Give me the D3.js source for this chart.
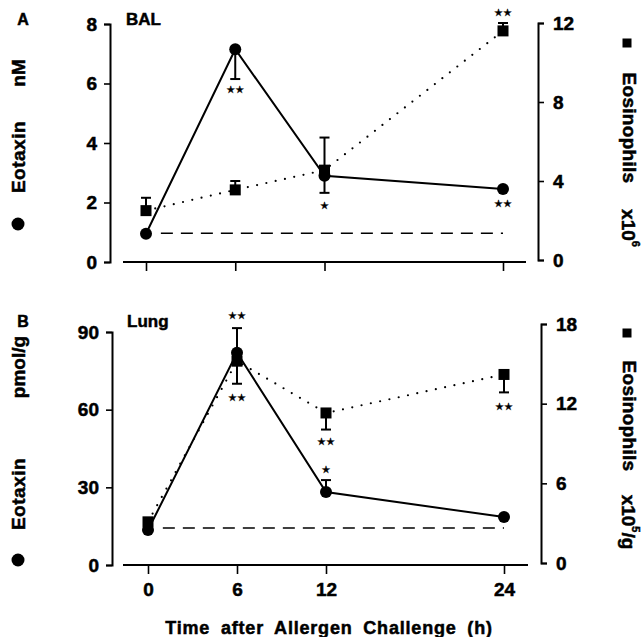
<!DOCTYPE html>
<html>
<head>
<meta charset="utf-8">
<script src="https://cdn.jsdelivr.net/npm/d3@7"></script>
<style>
  body { margin: 0; background: #fff; }
  svg text { font-family: "Liberation Sans", Arial, sans-serif; font-weight: bold; fill: #000; stroke: #000; stroke-width: 0.5px; }
</style>
</head>
<body>
<div id="chart"></div>
<script>
// time points (h)
var hours = [0, 6, 12, 24];

// panel A - BAL
var balEotaxin   = [0.95, 7.15, 2.9, 2.45];   // nM
var balEotaxinLo = [0.95, 6.15, 2.9, 2.45];
var balEotaxinHi = [0.95, 7.15, 2.9, 2.45];
var balEos   = [2.5, 3.55, 4.55, 11.6];       // x10^6
var balEosLo = [2.5, 3.55, 3.4, 11.6];
var balEosHi = [3.15, 4.0, 6.2, 12.0];
var balBaseline = 0.97;
var balLeftTicks = [0, 2, 4, 6, 8];
var balRightTicks = [0, 4, 8, 12];
var balStars = [
  {h: 6,  axis: "left",  v: 5.8,  s: "★★"},
  {h: 12, axis: "left",  v: 1.9,  s: "★"},
  {h: 24, axis: "left",  v: 1.95, s: "★★"},
  {h: 24, axis: "right", v: 12.55, s: "★★"}
];

// panel B - Lung
var lungEotaxin   = [13.5, 82, 28.2, 18.5];   // pmol/g
var lungEotaxinLo = [13.5, 82, 28.2, 18.5];
var lungEotaxinHi = [13.5, 91.5, 32.8, 18.5];
var lungEos   = [3.1, 15.2, 11.3, 14.2];      // x10^5/g
var lungEosLo = [3.1, 13.5, 10.05, 12.85];
var lungEosHi = [3.1, 15.2, 11.3, 14.2];
var lungBaseline = 14.3;
var lungLeftTicks = [0, 30, 60, 90];
var lungRightTicks = [0, 6, 12, 18];
var lungStars = [
  {h: 6,  axis: "left",  v: 96.5, s: "★★"},
  {h: 6,  axis: "right", v: 12.45, s: "★★"},
  {h: 12, axis: "right", v: 9.15, s: "★★"},
  {h: 12, axis: "left",  v: 36.7, s: "★"},
  {h: 24, axis: "right", v: 11.8, s: "★★"}
];

var width = 642, height = 637;

var svg = d3.select("#chart").append("svg")
  .attr("width", width)
  .attr("height", height);

function zip(vals, lo, hi) {
  return hours.map(function(h, i) { return {h: h, v: vals[i], lo: lo[i], hi: hi[i]}; });
}

function draw_panel(p) {
  var g = svg.append("g");

  var x = d3.scaleLinear().domain([0, 24]).range(p.xRange);
  var yL = d3.scaleLinear().domain(p.leftDomain).range(p.leftRange);
  var yR = d3.scaleLinear().domain(p.rightDomain).range(p.rightRange);

  // axes
  var leftAxis = d3.axisLeft(yL).tickValues(p.leftTicks).tickSize(6).tickPadding(7);
  var rightAxis = d3.axisRight(yR).tickValues(p.rightTicks).tickSize(6).tickPadding(9);
  var bottomAxis = d3.axisBottom(x).tickValues(hours).tickSize(9).tickPadding(9)
    .tickFormat(p.showXLabels ? d3.format("d") : "");

  g.append("g").attr("transform", "translate(" + p.leftX + ",0)").call(leftAxis);
  g.append("g").attr("transform", "translate(" + p.rightX + ",0)").call(rightAxis);
  var xa = g.append("g").attr("transform", "translate(0," + p.axisY + ")").call(bottomAxis);
  xa.select(".domain").remove();
  xa.append("line")
    .attr("x1", p.xLine[0]).attr("x2", p.xLine[1])
    .attr("stroke", "#000").attr("stroke-width", 2.2);

  g.selectAll(".domain").attr("stroke-width", 2).attr("stroke", "#000");
  g.selectAll(".tick line").attr("stroke-width", 1.6).attr("stroke", "#000");
  g.selectAll(".tick text").style("font-size", "19px").style("font-family", "Liberation Sans, Arial, sans-serif")
    .style("font-weight", "bold");

  // baseline (dashed)
  g.append("line")
    .attr("x1", x(1)).attr("x2", x(24))
    .attr("y1", yL(p.baseline)).attr("y2", yL(p.baseline))
    .attr("stroke", "#000").attr("stroke-width", 1.5)
    .attr("stroke-dasharray", "12,8");

  var eot = zip(p.eotaxin, p.eotaxinLo, p.eotaxinHi);
  var eos = zip(p.eos, p.eosLo, p.eosHi);

  // eosinophils dotted line
  g.append("path")
    .datum(eos)
    .attr("fill", "none").attr("stroke", "#000").attr("stroke-width", 2.2)
    .attr("stroke-linecap", "round")
    .attr("stroke-dasharray", "0,9.5")
    .attr("d", d3.line().x(function(d) { return x(d.h); }).y(function(d) { return yR(d.v); }));

  // eotaxin solid line
  g.append("path")
    .datum(eot)
    .attr("fill", "none").attr("stroke", "#000").attr("stroke-width", 2)
    .attr("d", d3.line().x(function(d) { return x(d.h); }).y(function(d) { return yL(d.v); }));

  // error bars
  function errbars(data, y) {
    var eb = g.selectAll(null).data(data.filter(function(d) { return d.hi > d.lo; })).enter().append("g");
    eb.append("line")
      .attr("x1", function(d) { return x(d.h); }).attr("x2", function(d) { return x(d.h); })
      .attr("y1", function(d) { return y(d.lo); }).attr("y2", function(d) { return y(d.hi); })
      .attr("stroke", "#000").attr("stroke-width", 2);
    ["lo", "hi"].forEach(function(k) {
      eb.filter(function(d) { return d[k] != d.v; }).append("line")
        .attr("x1", function(d) { return x(d.h) - 5; }).attr("x2", function(d) { return x(d.h) + 5; })
        .attr("y1", function(d) { return y(d[k]); }).attr("y2", function(d) { return y(d[k]); })
        .attr("stroke", "#000").attr("stroke-width", 2);
    });
  }
  errbars(eos, yR);
  errbars(eot, yL);

  // markers
  g.selectAll(null).data(eos).enter().append("rect")
    .attr("x", function(d) { return x(d.h) - 5.5; })
    .attr("y", function(d) { return yR(d.v) - 5.5; })
    .attr("width", 11).attr("height", 11)
    .attr("fill", "#000");
  g.selectAll(null).data(eot).enter().append("circle")
    .attr("cx", function(d) { return x(d.h); })
    .attr("cy", function(d) { return yL(d.v); })
    .attr("r", 6)
    .attr("fill", "#000");

  // significance stars
  g.selectAll(null).data(p.stars).enter().append("text")
    .attr("x", function(d) { return x(d.h); })
    .attr("y", function(d) { return (d.axis == "left" ? yL : yR)(d.v); })
    .attr("text-anchor", "middle")
    .attr("dominant-baseline", "central")
    .style("font-family", "DejaVu Sans, sans-serif")
    .style("font-size", "10px")
    .style("stroke-width", "0.3px")
    .text(function(d) { return d.s; });

  // panel letter and name
  g.append("text").attr("x", 23).attr("y", p.labelY).attr("text-anchor", "middle")
    .attr("dominant-baseline", "central").style("font-size", "16px").text(p.letter);
  g.append("text").attr("x", p.nameX).attr("y", p.labelY)
    .attr("dominant-baseline", "central").style("font-size", "17px").text(p.name);

  // left title
  g.append("text").attr("transform", "translate(18," + p.eotY + ") rotate(-90)")
    .attr("text-anchor", "middle").attr("dominant-baseline", "central")
    .style("font-size", "19px").style("letter-spacing", "0.5px").text("Eotaxin");
  g.append("text").attr("transform", "translate(18," + p.unitY + ") rotate(-90)")
    .attr("text-anchor", "middle").attr("dominant-baseline", "central")
    .style("font-size", "19px").text(p.unit);
  g.append("circle").attr("cx", 18).attr("cy", p.dotY).attr("r", 6.5).attr("fill", "#000");

  // right title
  g.append("rect").attr("x", 627 - 4.5).attr("y", p.sqY - 4.5).attr("width", 9).attr("height", 9).attr("fill", "#000");
  g.append("text").attr("transform", "translate(629," + p.eosY + ") rotate(90)")
    .attr("text-anchor", "middle").attr("dominant-baseline", "central")
    .style("font-size", "19px").style("letter-spacing", "0.3px").text("Eosinophils");
  var ru = g.append("text").attr("transform", "translate(629," + p.rUnitY + ") rotate(90)")
    .attr("text-anchor", "middle").attr("dominant-baseline", "central")
    .style("font-size", "19px");
  ru.append("tspan").text("x10");
  ru.append("tspan").attr("dy", -7).style("font-size", "11px").text(p.exp);
  if (p.rUnitTail) ru.append("tspan").attr("dy", 7).text(p.rUnitTail);
}

draw_panel({
  letter: "A", name: "BAL", labelY: 19, nameX: 126,
  xRange: [146, 503], axisY: 262, xLine: [123, 526], showXLabels: false,
  leftX: 110, leftDomain: [0, 8], leftRange: [262, 24], leftTicks: balLeftTicks,
  rightX: 538, rightDomain: [0, 12], rightRange: [260, 23], rightTicks: balRightTicks,
  eotaxin: balEotaxin, eotaxinLo: balEotaxinLo, eotaxinHi: balEotaxinHi,
  eos: balEos, eosLo: balEosLo, eosHi: balEosHi,
  baseline: balBaseline, stars: balStars,
  unit: "nM", unitY: 73, eotY: 157, dotY: 224,
  sqY: 43, eosY: 128, rUnitY: 228, exp: "6", rUnitTail: ""
});

draw_panel({
  letter: "B", name: "Lung", labelY: 321, nameX: 127,
  xRange: [148, 504], axisY: 565, xLine: [123, 528], showXLabels: true,
  leftX: 112, leftDomain: [0, 90], leftRange: [565, 332], leftTicks: lungLeftTicks,
  rightX: 541, rightDomain: [0, 18], rightRange: [563, 324], rightTicks: lungRightTicks,
  eotaxin: lungEotaxin, eotaxinLo: lungEotaxinLo, eotaxinHi: lungEotaxinHi,
  eos: lungEos, eosLo: lungEosLo, eosHi: lungEosHi,
  baseline: lungBaseline, stars: lungStars,
  unit: "pmol/g", unitY: 367, eotY: 494, dotY: 560,
  sqY: 333, eosY: 416, rUnitY: 522, exp: "5", rUnitTail: "/g"
});

// x axis title
svg.append("text")
  .attr("x", 329).attr("y", 628)
  .attr("text-anchor", "middle").attr("dominant-baseline", "central")
  .style("font-size", "18px").style("letter-spacing", "0.8px").style("word-spacing", "5px")
  .text("Time after Allergen Challenge (h)");
</script>
</body>
</html>
